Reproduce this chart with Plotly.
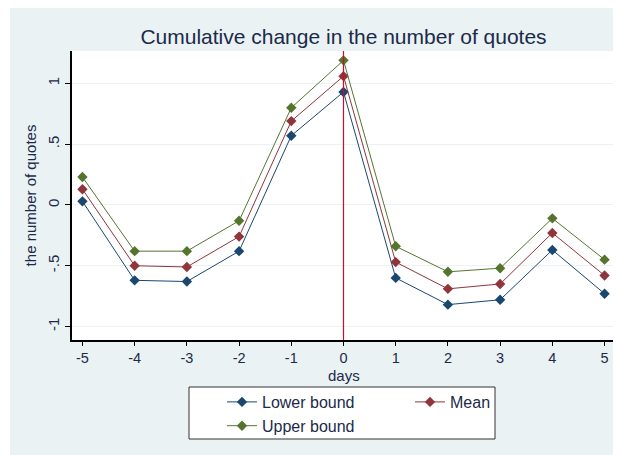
import plotly.graph_objects as go

days = [-5, -4, -3, -2, -1, 0, 1, 2, 3, 4, 5]
day_labels = ["-5", "-4", "-3", "-2", "-1", "0", "1", "2", "3", "4", "5"]
lower = [0.03, -0.62, -0.63, -0.38, 0.57, 0.93, -0.60, -0.82, -0.78, -0.37, -0.73]
mean = [0.13, -0.50, -0.51, -0.26, 0.69, 1.06, -0.47, -0.69, -0.65, -0.23, -0.58]
upper = [0.23, -0.38, -0.38, -0.13, 0.80, 1.19, -0.34, -0.55, -0.52, -0.11, -0.45]
yticks = [-1, -0.5, 0, 0.5, 1]
yticklabels = ["-1", "-.5", "0", ".5", "1"]

BG = "#EAF2F3"
TXT = "#1c2a4a"
series = [("Lower bound", lower, "#1A476F"), ("Mean", mean, "#90353B"), ("Upper bound", upper, "#55752F")]

W, H = 613, 447
ML, MR, MT, MB = 64, 6, 43, 115
PW, PH = W - ML - MR, H - MT - MB


def px(x):
    return (x - ML) / PW


def py(y):
    return 1 - (y - MT) / PH


fig = go.Figure()
for name, vals, col in series:
    fig.add_trace(go.Scatter(x=days, y=vals, name=name, mode="lines+markers",
                             line=dict(color=col, width=1),
                             marker=dict(symbol="diamond", size=8, color=col)))

fig.add_shape(type="line", xref="x", yref="paper", x0=0, x1=0, y0=0, y1=1,
              line=dict(color="#C8102E", width=1.2), layer="above")
# white strip left of the graph region
fig.add_shape(type="rect", xref="paper", yref="paper", x0=px(-5), x1=px(2), y0=-2, y1=2,
              fillcolor="white", line_width=0, layer="above")
# legend box
fig.add_shape(type="rect", xref="paper", yref="paper", x0=px(181), x1=px(487), y0=py(431), y1=py(379),
              fillcolor="white", line=dict(color="#333333", width=1), layer="below")
fig.add_annotation(text="days", xref="paper", yref="paper", x=0.5, y=py(357),
                   xanchor="center", yanchor="top", showarrow=False,
                   font=dict(size=15, color=TXT))

fig.update_layout(
    width=W, height=H,
    margin=dict(l=ML, r=MR, t=MT, b=MB),
    paper_bgcolor=BG, plot_bgcolor="white",
    font=dict(family="Liberation Sans, Arial, sans-serif", color=TXT, size=14),
    title=dict(text="Cumulative change in the number of quotes", x=0.5, xanchor="center",
               xref="paper", y=1 - 29 / H, yanchor="middle", font=dict(size=21, color=TXT)),
    xaxis=dict(range=[-5.2, 5.2], tickmode="array", tickvals=days, ticktext=day_labels,
               ticks="outside", ticklen=4,
               tickcolor="black", showline=True, linecolor="black", linewidth=1.5,
               showgrid=False, zeroline=False, tickfont=dict(size=14.5)),
    yaxis=dict(range=[-1.111, 1.267], tickmode="array", tickvals=yticks, ticktext=yticklabels,
               ticks="outside", ticklen=5, tickcolor="black", tickangle=-90,
               showline=True, linecolor="black", linewidth=1.5,
               showgrid=True, gridcolor=BG, gridwidth=1, zeroline=False,
               tickfont=dict(size=15),
               title=dict(text="the number of quotes", standoff=5, font=dict(size=15))),
    legend=dict(orientation="h", x=px(214), xanchor="left", y=py(377), yanchor="top",
                bgcolor="rgba(0,0,0,0)", borderwidth=0,
                entrywidth=143, font=dict(size=16, color=TXT), traceorder="normal"),
    showlegend=True,
)

fig.write_html("out.html")
